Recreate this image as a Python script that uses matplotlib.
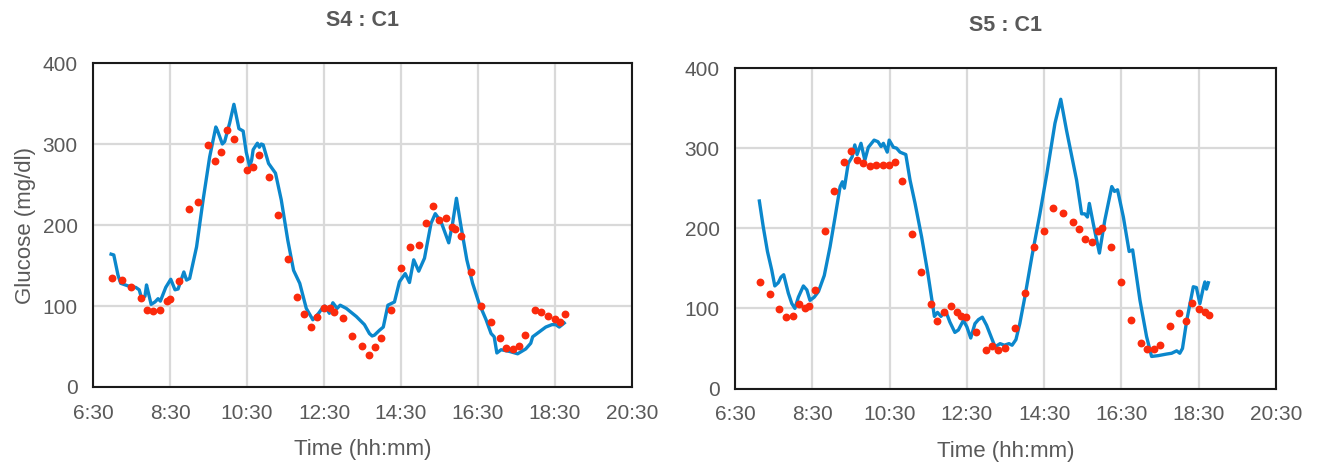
import matplotlib
matplotlib.use("Agg")
import matplotlib.pyplot as plt
import numpy as np

plt.rcParams['font.family'] = ['Liberation Sans', 'DejaVu Sans']

# ---------------- data (time in decimal hours, glucose mg/dl) ----------------
s4_line_t = [6.97, 7.04, 7.15, 7.22, 7.46, 7.61, 7.70, 7.76, 7.85, 7.89, 7.94, 8.01, 8.11, 8.19, 8.25,
             8.39, 8.52, 8.63, 8.71, 8.86, 8.93, 9.01, 9.19, 9.36, 9.53, 9.69, 9.73, 9.86, 9.92, 10.05,
             10.16, 10.29, 10.40, 10.48, 10.57, 10.62, 10.66, 10.77, 10.82, 10.87, 10.92, 11.06, 11.24,
             11.39, 11.56, 11.71, 11.87, 12.04, 12.21, 12.36, 12.45, 12.52, 12.64, 12.73, 12.84, 12.92,
             13.08, 13.34, 13.55, 13.68, 13.75, 13.81, 13.94, 14.04, 14.16, 14.33, 14.46, 14.61, 14.72,
             14.83, 14.96, 15.11, 15.28, 15.39, 15.54, 15.74, 15.84, 15.94, 16.06, 16.21, 16.36, 16.53,
             16.71, 16.84, 16.92, 16.99, 17.10, 17.31, 17.53, 17.74, 17.87, 17.92, 18.09, 18.26, 18.42,
             18.52, 18.61, 18.74]
s4_line_g = [164, 163, 138, 128, 124, 123, 120, 110, 112, 126, 116, 102, 105, 109, 106,
             123, 133, 120, 121, 142, 132, 134, 173, 231, 284, 321, 317, 300, 303, 326,
             349, 319, 316, 290, 272, 280, 293, 301, 296, 300, 299, 276, 264,
             231, 181, 144, 128, 97, 83, 91, 97, 100, 91, 104, 97, 101,
             97, 87, 77, 66, 63, 64, 70, 74, 101, 105, 130, 140, 129,
             157, 143, 159, 202, 214, 204, 178, 202, 233, 198, 157, 128, 103,
             83, 66, 62, 42, 46, 44, 41, 47, 54, 62, 68, 74, 77,
             77, 74, 79]

s4_pts_t = [6.99, 7.25, 7.49, 7.74, 7.91, 8.07, 8.24, 8.42, 8.50, 8.74, 9.00, 9.24, 9.49, 9.66, 9.82,
            9.98, 10.16, 10.32, 10.49, 10.66, 10.82, 11.08, 11.31, 11.57, 11.81, 11.99, 12.15, 12.33,
            12.50, 12.65, 12.75, 13.00, 13.24, 13.49, 13.66, 13.82, 13.97, 14.23, 14.49, 14.74, 14.98,
            15.16, 15.32, 15.48, 15.66, 15.82, 15.91, 16.07, 16.33, 16.58, 16.83, 17.07, 17.23, 17.41,
            17.57, 17.73, 17.99, 18.14, 18.32, 18.49, 18.64, 18.75]
s4_pts_g = [134, 132, 123, 110, 95, 94, 95, 106, 109, 131, 220, 229, 299, 279, 290,
            317, 306, 281, 268, 272, 286, 259, 212, 158, 111, 90, 74, 87,
            97, 98, 93, 85, 63, 51, 40, 50, 61, 95, 147, 173, 175,
            202, 223, 206, 209, 198, 195, 186, 142, 100, 80, 60, 48, 47,
            51, 64, 95, 93, 88, 84, 80, 90]

s5_line_t = [7.13, 7.23, 7.34, 7.45, 7.53, 7.62, 7.69, 7.76, 7.88, 7.97, 8.05, 8.14, 8.27, 8.36, 8.44,
             8.55, 8.66, 8.81, 8.96, 9.09, 9.22, 9.28, 9.33, 9.43, 9.53, 9.60, 9.66, 9.76, 9.86, 9.95,
             10.10, 10.20, 10.28, 10.34, 10.44, 10.49, 10.60, 10.68, 10.77, 10.92, 11.03, 11.16, 11.33,
             11.49, 11.66, 11.74, 11.83, 11.95, 12.06, 12.19, 12.28, 12.41, 12.50, 12.60, 12.71, 12.80,
             12.90, 13.01, 13.14, 13.23, 13.36, 13.47, 13.59, 13.67, 13.77, 13.87, 14.00, 14.18, 14.39,
             14.57, 14.78, 14.93, 15.08, 15.21, 15.34, 15.47, 15.55, 15.62, 15.67, 15.77, 15.93, 16.07,
             16.25, 16.32, 16.40, 16.55, 16.70, 16.79, 16.98, 17.15, 17.28, 17.45, 17.67, 17.80, 17.93,
             18.01, 18.08, 18.19, 18.36, 18.44, 18.53, 18.62, 18.66, 18.70, 18.75]
s5_line_g = [234, 202, 171, 148, 128, 132, 139, 142, 119, 106, 100, 114, 128, 123, 110,
             114, 121, 141, 177, 214, 252, 258, 250, 281, 289, 304, 292, 306, 285, 301,
             310, 308, 302, 306, 295, 310, 301, 300, 295, 292, 260, 231, 189,
             144, 90, 95, 90, 97, 83, 70, 73, 85, 77, 63, 81, 86,
             89, 79, 63, 52, 56, 54, 56, 54, 61, 81, 114, 164, 218,
             268, 331, 361, 322, 291, 260, 218, 218, 214, 231, 206, 169, 210,
             252, 246, 248, 214, 171, 173, 110, 65, 40, 41, 43, 44, 47,
             44, 50, 85, 127, 126, 106, 126, 133, 124, 132]

s5_pts_t = [7.15, 7.41, 7.65, 7.81, 7.99, 8.15, 8.31, 8.41, 8.57, 8.82, 9.06, 9.32, 9.49, 9.66, 9.82,
            9.99, 10.16, 10.32, 10.49, 10.65, 10.83, 11.07, 11.32, 11.57, 11.73, 11.91, 12.08, 12.24,
            12.34, 12.48, 12.74, 12.99, 13.15, 13.31, 13.49, 13.74, 14.00, 14.24, 14.49, 14.74, 15.00,
            15.24, 15.41, 15.57, 15.74, 15.89, 15.99, 16.24, 16.50, 16.75, 17.00, 17.16, 17.33, 17.50,
            17.75, 17.99, 18.16, 18.33, 18.50, 18.67, 18.76]
s5_pts_g = [133, 118, 99, 89, 91, 106, 101, 103, 123, 196, 247, 283, 296, 285, 281,
            278, 279, 279, 279, 283, 259, 193, 146, 105, 84, 95, 103, 95,
            91, 89, 71, 48, 53, 48, 50, 75, 119, 176, 196, 225, 219,
            208, 199, 186, 183, 196, 200, 177, 133, 85, 57, 49, 49, 54,
            78, 94, 84, 107, 99, 95, 92]

x_ticks = [6.5, 8.5, 10.5, 12.5, 14.5, 16.5, 18.5, 20.5]
x_tick_labels = ["6:30", "8:30", "10:30", "12:30", "14:30", "16:30", "18:30", "20:30"]
y_ticks = [0, 100, 200, 300, 400]
titles = ["S4 : C1", "S5 : C1"]
x_label = "Time (hh:mm)"
y_label = "Glucose (mg/dl)"

# ---------------- styling ----------------
LINE_C = '#0b87cc'
DOT_C = '#fb2a0c'
TXT_C = '#595959'
GRID_C = '#d9d9d9'

fig = plt.figure(figsize=(13.21, 4.66), dpi=100)
ax1 = fig.add_axes([93/1321, 1-387/466, 539/1321, 324/466])
ax2 = fig.add_axes([735/1321, 1-388.5/466, 541/1321, 320.5/466])

panels = [(ax1, s4_line_t, s4_line_g, s4_pts_t, s4_pts_g, titles[0]),
          (ax2, s5_line_t, s5_line_g, s5_pts_t, s5_pts_g, titles[1])]

for i, (ax, lt, lg, pt, pg, ttl) in enumerate(panels):
    ax.plot(lt, lg, color=LINE_C, lw=2.4, zorder=3, solid_joinstyle='round')
    ax.scatter(pt, pg, s=32, color=DOT_C, zorder=4, linewidths=0)
    ax.set_xlim(6.5, 20.5)
    ax.set_ylim(0, 400)
    ax.set_xticks(x_ticks)
    ax.set_xticklabels(x_tick_labels)
    ax.set_yticks(y_ticks)
    ax.grid(True, color=GRID_C, lw=1.6)
    ax.set_axisbelow(True)
    ax.tick_params(length=0, labelsize=15, labelcolor=TXT_C)
    ax.tick_params(axis='x', pad=12)
    ax.tick_params(axis='y', pad=11)
    for sp in ax.spines.values():
        sp.set_color('#1a1a1a')
        sp.set_linewidth(1.5)
    ax.set_title(ttl, fontsize=15.5, fontweight='bold', color=TXT_C, pad=27)
    ax.set_xlabel(x_label, fontsize=16, color=TXT_C, labelpad=12)
    if i == 0:
        ax.set_ylabel(y_label, fontsize=16, color=TXT_C, labelpad=5)

fig.savefig('out.png', dpi=100, facecolor='white')
